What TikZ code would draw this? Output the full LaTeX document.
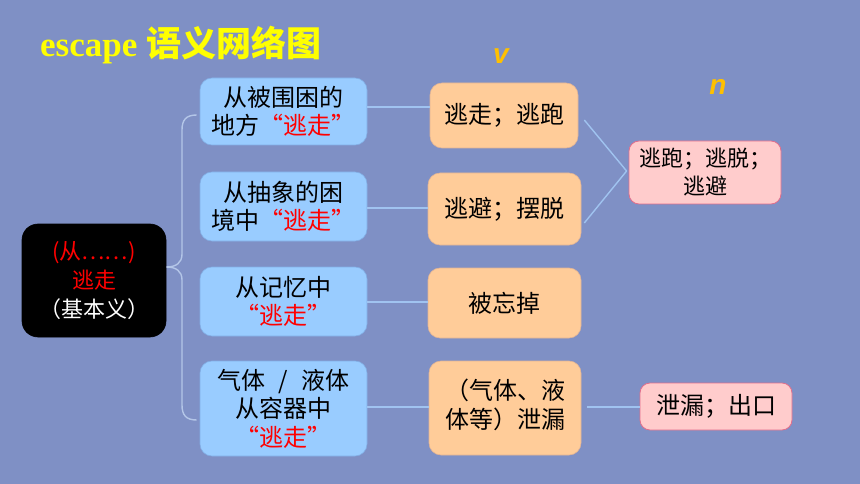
\documentclass[tikz,border=0pt]{standalone}
\usepackage{fontspec}
\setmainfont{Liberation Serif}
\newfontfamily\cjk{Noto Sans CJK SC}
\newfontfamily\lsans{Liberation Sans}
\definecolor{bgc}{RGB}{127,144,197}
\definecolor{blueF}{RGB}{153,204,255}
\definecolor{blueD}{RGB}{130,175,230}
\definecolor{orF}{RGB}{255,204,153}
\definecolor{orD}{RGB}{225,180,150}
\definecolor{pkF}{RGB}{255,204,204}
\definecolor{pkD}{RGB}{225,110,140}
\definecolor{qred}{RGB}{255,0,0}
\definecolor{lnc}{RGB}{160,195,240}
\definecolor{brc}{RGB}{180,198,232}
\definecolor{ttl}{RGB}{255,255,0}
\definecolor{pos}{RGB}{255,192,0}
\begin{document}
\begin{tikzpicture}[x=1pt,y=-1pt,
  box/.style={rounded corners=12pt, align=center, inner sep=0pt, text=black,
    font=\cjk\fontsize{24}{28.5}\selectfont, line width=0.6pt},
  bluebox/.style={box, fill=blueF, draw=blueD, minimum width=167pt},
  orbox/.style={box, fill=orF, draw=orD},
  pkbox/.style={box, rounded corners=10pt, fill=pkF, draw=pkD, line width=0.8pt},
  conn/.style={draw=lnc, line width=1.4pt},
  bracel/.style={draw=brc, line width=1.4pt},
  poslabel/.style={text=pos, font=\lsans\bfseries\itshape\fontsize{28}{28}\selectfont, inner sep=0pt}
]
\fill[bgc] (0,0) rectangle (860,484);
\useasboundingbox (0,0) rectangle (860,484);

% title
\node[anchor=base west, inner sep=0pt, text=ttl] (title) at (40,57)
  {\bfseries\fontsize{35}{35}\selectfont escape {\cjk 语义网络图}};

% root
\node[box, rounded corners=16pt, fill=black, draw=black, minimum width=144pt, minimum height=113pt,
      font=\cjk\fontsize{22}{29}\selectfont] (root) at (94,280.5)
  {\textcolor{qred}{(从……)}\\\textcolor{qred}{逃走}\\\textcolor{white}{（基本义）}};

% level 1
\node[bluebox, minimum height=67pt] (b1) at (283.5,111.5) {从被围困的\\地方\textcolor{qred}{“逃走”}};
\node[bluebox, minimum height=69pt] (b2) at (283.5,206.5) {从抽象的困\\境中\textcolor{qred}{“逃走”}};
\node[bluebox, minimum height=69pt] (b3) at (283.5,301.5) {从记忆中\\\textcolor{qred}{“逃走”}};
\node[bluebox, minimum height=95pt] (b4) at (283.5,408.5) {气体\hspace{0.55em}/\hspace{0.55em}液体\\从容器中\\\textcolor{qred}{“逃走”}};

% level 2
\node[orbox, minimum width=148pt, minimum height=65pt] (o1) at (504,115.5) {逃走；逃跑};
\node[orbox, minimum width=153pt, minimum height=72pt] (o2) at (504.5,209) {逃避；摆脱};
\node[orbox, minimum width=153pt, minimum height=70pt] (o3) at (504.5,303) {被忘掉};
\node[orbox, minimum width=152pt, minimum height=94pt] (o4) at (505,408)
  {\begin{tabular}{@{}l@{}}（气体、液\\体等）泄漏\end{tabular}};

% level 3
\node[pkbox, minimum width=152pt, minimum height=63pt, font=\cjk\fontsize{22}{28}\selectfont] (p1) at (705,172.5) {逃跑；逃脱；\\逃避};
\node[pkbox, minimum width=152pt, minimum height=47pt] (p2) at (716,406.5) {泄漏；出口};

% labels
\node[poslabel] (v) at (501,56) {v};
\node[poslabel] (n) at (718,87) {n};

% brace
\coordinate (tip) at ([yshift=13.5pt]root.east);
\coordinate (btop) at ([xshift=-3pt,yshift=-3.5pt]b1.west);
\coordinate (bbot) at ([xshift=-3pt,yshift=-11.5pt]b4.west);
\draw[bracel] (btop) .. controls (186,115) and (182,120) .. (182,130) -- (182,254)
  .. controls (182,263) and (176,267) .. (tip)
  .. controls (176,267) and (182,271) .. (182,280) -- (182,405)
  .. controls (182,415) and (186,420) .. (bbot);

% connectors
\draw[conn] ([yshift=4.5pt]b1.east) -- ([yshift=4.5pt]b1.east -| o1.west);
\draw[conn] ([yshift=-1.5pt]b2.east) -- ([yshift=-1.5pt]b2.east -| o2.west);
\draw[conn] ([yshift=-0.5pt]b3.east) -- ([yshift=-0.5pt]b3.east -| o3.west);
\draw[conn] ([yshift=1.5pt]b4.east) -- ([yshift=1.5pt]b4.east -| o4.west);
\draw[conn] ([xshift=6pt,yshift=-4.5pt]o1.east) -- ([xshift=-2pt,yshift=1.5pt]p1.west);
\draw[conn] ([xshift=3pt,yshift=-14pt]o2.east) -- ([xshift=-2pt,yshift=1.5pt]p1.west);
\draw[conn] ([xshift=6pt,yshift=1pt]o4.east) -- ([yshift=1pt]o4.east -| p2.west);
\end{tikzpicture}
\end{document}
